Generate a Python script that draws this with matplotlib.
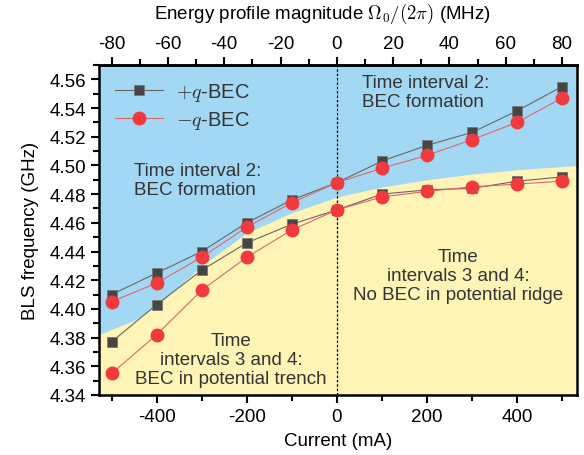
import matplotlib
matplotlib.use("Agg")
import matplotlib.pyplot as plt
from matplotlib.ticker import MultipleLocator, FixedLocator

plt.rcParams['font.family'] = ['Liberation Sans', 'DejaVu Sans']
plt.rcParams['mathtext.fontset'] = 'cm'
plt.rcParams['axes.unicode_minus'] = False

# current (mA)
current = [-500, -400, -300, -200, -100, 0, 100, 200, 300, 400, 500]

# upper branch (BEC formation)
plus_upper = [4.410, 4.425, 4.440, 4.460, 4.476, 4.488, 4.503, 4.514, 4.523, 4.538, 4.555]
minus_upper = [4.405, 4.418, 4.436, 4.457, 4.474, 4.488, 4.498, 4.507, 4.518, 4.530, 4.547]
# lower branch (intervals 3 and 4)
plus_lower = [4.377, 4.403, 4.427, 4.446, 4.459, 4.469, 4.480, 4.483, 4.484, 4.489, 4.492]
minus_lower = [4.355, 4.382, 4.413, 4.436, 4.455, 4.469, 4.478, 4.482, 4.485, 4.487, 4.489]

# boundary between the blue and yellow regions
edge_x = [-530, -450, -400, -300, -200, -100, 0, 100, 200, 300, 400, 535]
edge_y = [4.382, 4.392, 4.402, 4.430, 4.453, 4.467, 4.478, 4.485, 4.490, 4.494, 4.497, 4.500]

# top axis ticks (MHz)
top_major = [-80, -60, -40, -20, 0, 20, 40, 60, 80]
top_minor = [-70, -50, -30, -10, 10, 30, 50, 70]

blue = '#a3d8f5'
yellow = '#fdf4b6'
sq_col = '#464646'
red = '#f03a3e'
txt = '#333333'

fig = plt.figure(figsize=(5.84, 4.56), dpi=100)
ax = fig.add_axes([0.1695, 0.1316, 0.8185, 0.7237])

ax.set_xlim(-528, 533)
ax.set_ylim(4.34, 4.57)

# background regions
ax.fill_between(edge_x, 4.30, 4.60, color=blue, lw=0, zorder=0)
ax.fill_between(edge_x, 4.30, edge_y, color=yellow, lw=0, zorder=0)

ax.axvline(0, color='black', ls=(0, (2, 1.5)), lw=0.9, zorder=1)

ax.plot(current, plus_upper, '-s', color='#666666', lw=0.8, ms=7.5,
        mfc=sq_col, mec='#777777', mew=0.6, label=r'$+q$-BEC', zorder=3)
ax.plot(current, minus_upper, '-o', color='#e0646a', lw=0.8, ms=9,
        mfc=red, mec=red, label=r'$-q$-BEC', zorder=4)
ax.plot(current, plus_lower, '-s', color='#666666', lw=0.8, ms=7.5,
        mfc=sq_col, mec='#777777', mew=0.6, zorder=3)
ax.plot(current, minus_lower, '-o', color='#e0646a', lw=0.8, ms=9,
        mfc=red, mec=red, zorder=4)

leg = ax.legend(loc='upper left', frameon=False, fontsize=14.5, handlelength=2.4,
                borderaxespad=0.4, labelspacing=0.3, handletextpad=0.6)
for t in leg.get_texts():
    t.set_color(txt)

fs = 13.5
ax.text(-450, 4.4896, 'Time interval 2:\nBEC formation', ha='left', va='center',
        fontsize=fs, color=txt, linespacing=1.15)
ax.text(56, 4.5514, 'Time interval 2:\nBEC formation', ha='left', va='center',
        fontsize=fs, color=txt, linespacing=1.15)
ax.text(-235, 4.3648, 'Time\nintervals 3 and 4:\nBEC in potential trench',
        ha='center', va='center', fontsize=fs, color=txt, linespacing=1.15)
ax.text(269, 4.4234, 'Time\nintervals 3 and 4:\nNo BEC in potential ridge',
        ha='center', va='center', fontsize=fs, color=txt, linespacing=1.15)

ax.xaxis.set_major_locator(FixedLocator([-400, -200, 0, 200, 400]))
ax.xaxis.set_minor_locator(FixedLocator([-500, -300, -100, 100, 300, 500]))
ax.yaxis.set_major_locator(MultipleLocator(0.02))
ax.yaxis.set_minor_locator(MultipleLocator(0.01))
ax.yaxis.set_major_formatter(plt.FormatStrFormatter('%.2f'))
ax.tick_params(which='both', direction='out', width=1.5, labelsize=13.5)
ax.tick_params(which='major', length=6)
ax.tick_params(which='minor', length=4)
for s in ax.spines.values():
    s.set_linewidth(1.8)

ax.set_xlabel('Current (mA)', fontsize=13.5, labelpad=5)
ax.set_ylabel('BLS frequency (GHz)', fontsize=13.5, labelpad=7)

top = ax.secondary_xaxis('top', functions=(lambda x: x * 0.16, lambda x: x / 0.16))
top.xaxis.set_major_locator(FixedLocator(top_major))
top.xaxis.set_minor_locator(FixedLocator(top_minor))
top.tick_params(which='both', direction='out', width=1.5, labelsize=13.5)
top.tick_params(which='major', length=6)
top.tick_params(which='minor', length=4)
top.spines['top'].set_linewidth(1.8)
top.set_xlabel(r'Energy profile magnitude $\Omega_0/(2\pi)$ (MHz)', fontsize=13.5,
               labelpad=12, x=0.467)

fig.savefig('out.png', dpi=100)
